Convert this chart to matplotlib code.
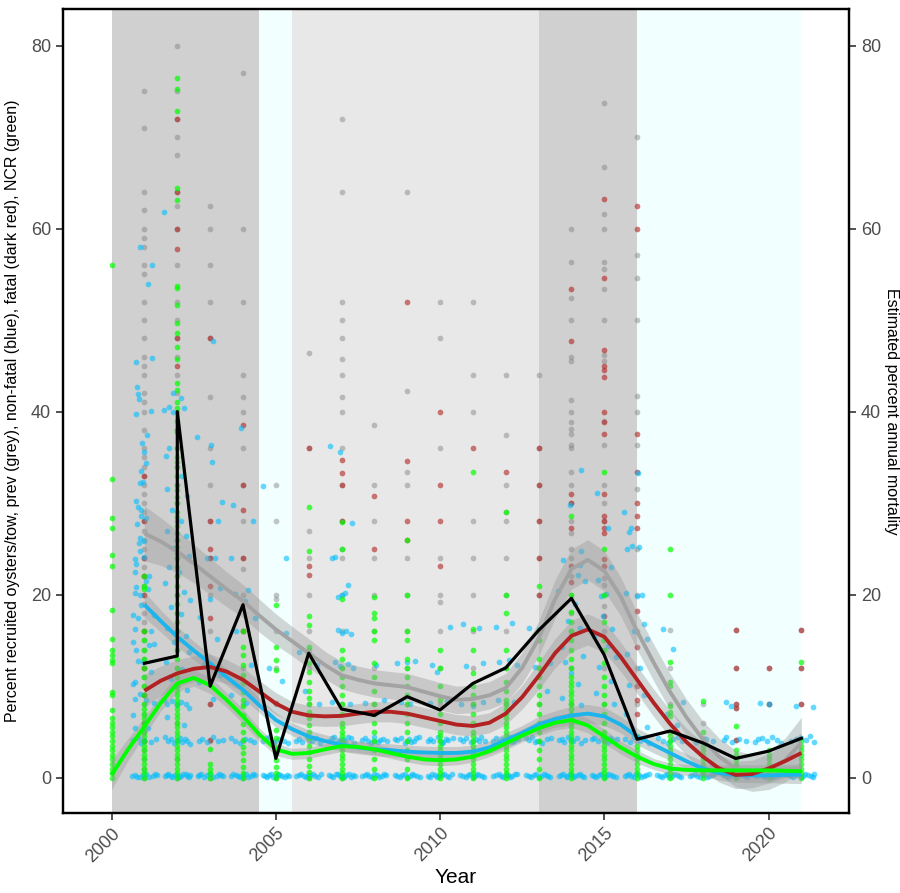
import matplotlib
matplotlib.use("Agg")
import matplotlib.pyplot as plt

plt.rcParams['font.family'] = ['Liberation Sans', 'DejaVu Sans']

# management periods shaded behind the data (start, end, colour)
periods = [(2000.0, 2004.5, "#d0d0d0"), (2004.5, 2005.5, "#f2ffff"),
           (2005.5, 2013.0, "#e8e8e8"), (2013.0, 2016.0, "#d0d0d0"),
           (2016.0, 2021.0, "#f2ffff")]

# prevalence per tow (grey)
prev_pts = {
    2001: [75, 71, 64, 62, 60, 59, 58, 56, 55, 52, 50, 48, 46, 45, 44, 42, 41, 40, 38, 36, 35, 34, 33, 32,
           31, 30, 29, 28, 27, 26, 25, 24, 23, 22, 21, 20, 19, 18, 17, 16, 15, 14, 13, 12, 11, 10, 9, 8,
           7, 6, 5, 4, 3, 2, 1, 0],
    2002: [80, 75, 72, 70, 68, 64, 62.5, 60, 56, 52, 50, 48, 46, 44, 42, 40, 38, 36, 34, 32, 30, 28,
           26, 24, 22, 20, 18, 16, 14, 12, 10, 8, 6, 4, 2, 0],
    2003: [62.5, 60, 56, 52, 48, 41.6, 36, 32, 28, 24, 20, 16, 12, 8, 4, 0],
    2004: [77, 60, 52, 44, 41.6, 40, 36, 32, 28, 24, 22.8, 20, 16, 12, 8, 4, 0],
    2005: [32, 28, 20, 19.5, 16, 12, 8, 4, 0],
    2006: [46.4, 36, 27, 24, 20, 16, 14, 13.5, 12, 8, 4, 0],
    2007: [72, 64, 52, 50, 48, 45.8, 44, 41.6, 40, 36, 32, 28, 25, 24, 20, 16, 12, 8, 4, 0],
    2008: [38.5, 32, 28, 24, 20, 16, 12, 8, 4],
    2009: [64, 42.3, 33.4, 32, 24, 20, 16, 12, 8, 4],
    2010: [52, 48, 36, 24, 20, 19.2, 16, 12, 8, 4],
    2011: [52, 44, 40, 28, 24, 20, 16, 12, 8, 4],
    2012: [44, 37.5, 32, 29, 28, 24, 20, 16, 12, 8, 4],
    2013: [44, 36, 32, 28, 24, 20, 16, 12, 8, 4],
    2014: [60, 56.3, 52.4, 50, 46, 45.5, 41.3, 40, 38.9, 38.1, 37.6, 36.4, 36, 33.4, 32, 30, 28, 26.7,
           25, 24, 22, 20, 18, 16, 12, 8, 4],
    2015: [73.7, 66.7, 61.6, 60, 56.3, 55.6, 53.4, 50, 46.2, 45.5, 39, 36.4, 32, 30, 28, 21.8, 21.1,
           20, 18.8, 16, 12, 8, 4],
    2016: [70, 57.1, 54.6, 50, 41.7, 40, 36.4, 31.6, 25, 20, 16, 12, 8, 4],
    2017: [16.1, 12, 8, 4],
    2018: [8, 6, 4.3],
    2019: [16.1, 12, 8, 7.6, 4.1],
    2020: [12, 8],
    2021: [16.1, 12, 8],
}

# fatal infections (dark red)
fatal_pts = {
    2001: [33, 28, 24, 22, 20, 16, 12, 9, 6, 4],
    2002: [72, 64, 60, 57.8, 48, 45],
    2003: [48, 28, 25, 24, 20.9, 17.4, 8, 4.1],
    2004: [38.5, 32, 29.2, 24, 16],
    2005: [8.2],
    2006: [36, 23.1, 22.2],
    2007: [34.7, 33.3, 32, 28],
    2008: [30.8, 25],
    2009: [52, 34.6, 28, 26],
    2010: [40, 32, 28, 23.1],
    2011: [36],
    2012: [33.4],
    2013: [36, 32, 28, 24, 20],
    2014: [53.4, 47.7, 31, 30, 27.3, 23.1, 21.4],
    2015: [63.2, 54.6, 46.7, 45, 44.5, 43.8, 40, 38.9, 37.6, 31, 28.6, 28, 27.3, 26.7, 23.9, 23.1, 17.7],
    2016: [62.5, 60, 37.6, 33.4, 30, 28.6, 27.3, 18.2, 14.3, 10, 8.5, 7],
    2019: [16.1, 12, 8, 7.6, 4.1],
    2020: [12, 8],
    2021: [16.1, 12, 8],
}

# new cases recruited (green)
ncr_pts = {
    2000: [56, 32.6, 28.4, 27.3, 24.3, 23.1, 18.3, 15.2, 14, 13.4, 12.9, 12.5, 9.4, 9, 7.4, 6.5, 6,
           5.5, 5, 4.5, 4, 3.5, 3, 2.5, 2, 1.5, 1, 0.5, 0],
    2001: [22, 21, 20.6, 16, 15, 14, 13, 12, 11, 10, 9, 8, 7.5, 7, 6.5, 6, 5.5, 5, 4.5, 4, 3.5, 3,
           2.5, 2, 1.5, 1, 0.5, 0],
    2002: [76.5, 75.3, 72.9, 64.4, 63.1, 53.7, 53.5, 51.7, 49.7, 48.6, 47.1, 45.7, 43.1, 42.4, 41.1,
           40.4, 39, 38, 37.8, 36, 35, 34.5, 34, 33, 32, 31.4, 30.7, 30, 29, 28.5, 27.5, 26.7, 26,
           25.2, 24.5, 24, 23, 22, 21, 20, 19, 18, 17, 16, 15, 14, 13, 12, 11, 10, 9.5, 9, 8.5, 8,
           7.5, 7, 6.5, 6, 5.5, 5, 4.5, 4, 3.5, 3, 2.5, 2, 1.5, 1, 0.5, 0],
    2003: [3.1, 1.5, 1, 0.5, 0],
    2004: [16, 14.3, 13.4, 12.3, 11.2, 10.3, 9.4, 8.5, 7.8, 6.85, 5.9, 5, 4.1, 3.4, 2.7, 1.9, 1.2, 0.5, 0],
    2005: [18.9, 14.3, 12.9, 11.8, 5.2, 4.3, 3.4, 2.7, 1.9, 1.2, 0.5, 0],
    2006: [29.6, 24.8, 17.7, 16.7, 14.3, 13.5, 12.5, 11.5, 10.5, 9.5, 8.7, 8, 7.2, 6.5, 5.8, 5, 4.3,
           3.5, 2.8, 2, 1.3, 0.6, 0],
    2007: [27.9, 25, 19.5, 14, 13, 12, 11, 10, 9, 8, 7, 6, 5.5, 5, 4.5, 4, 3.5, 3, 2.5, 2, 1.5, 1, 0.5, 0],
    2008: [19.7, 18, 17.5, 16, 15, 12.5, 11, 9.5, 8, 7, 6, 5, 4, 3, 2, 1, 0],
    2009: [26, 20, 16, 15, 13, 12, 11, 10, 9, 8, 7, 6, 5, 4, 3, 2, 1, 0],
    2010: [14, 12, 10, 8.5, 7, 6, 5, 4.5, 4, 3.5, 3, 2.5, 2, 1.5, 1, 0.5, 0],
    2011: [33.4, 16.3, 14, 11.4, 10, 9, 8, 7, 6, 5, 4.5, 4, 3.5, 3, 2.5, 2, 1.5, 1, 0.5, 0],
    2012: [29, 20, 18, 14, 12, 10.5, 9.5, 8.5, 8, 7.5, 7, 6.5, 6, 5.5, 5, 4.5, 4, 3.5, 3, 2.5, 2,
           1.5, 1, 0.5, 0],
    2013: [21, 16, 15, 13, 12, 11, 10, 9, 8, 7, 6, 5, 4, 3, 2, 1, 0],
    2014: [28.6, 20, 18.1, 17, 16, 15, 14, 13, 12, 11, 10.5, 10, 9.5, 9, 8.5, 8, 7.5, 7, 6.5, 6, 5.5,
           5, 4.5, 4, 3.5, 3, 2.5, 2, 1.5, 1, 0.5, 0],
    2015: [33.4, 25, 20, 17, 15, 14, 12.5, 11, 10, 9, 8, 7, 6, 5, 4.5, 4, 3.5, 3, 2.5, 2, 1.5, 1, 0.5, 0],
    2016: [4.5, 3.5, 3, 2.5, 2, 1.5, 1, 0.5, 0],
    2017: [25, 20, 12.6, 10.5, 10, 7.8, 7.2, 6.7, 5, 4.5, 4, 3.5, 3, 2.5, 2, 1.5, 1, 0.5, 0],
    2018: [8.4, 5, 3.5, 3, 2.5, 2, 1.5, 1, 0.5, 0],
    2019: [5.6, 3, 2.5, 2, 1.5, 1, 0.5, 0],
    2020: [3, 2.5, 2, 1.5, 1, 0.5, 0],
    2021: [12.6, 4, 3.5, 3, 2.5, 2, 1.5, 1, 0.5, 0],
}

# non-fatal infections (blue), jittered sample positions
nonfatal_pts = [
    (2000.85, 58.0), (2001.23, 56.0), (2001.1, 53.9), (2000.73, 45.4), (2001.24, 45.9), (2000.78, 42.7),
    (2000.8, 41.9), (2000.83, 41.4), (2000.73, 39.7), (2001.2, 40.1), (2001.07, 37.5), (2000.93, 36.6),
    (2000.98, 35.6), (2001.05, 34.4), (2000.9, 33.5), (2000.85, 32.2), (2000.95, 32.3), (2000.75, 30.2),
    (2000.8, 29.6), (2000.9, 29.3), (2001.05, 28.4), (2000.9, 28.6), (2000.76, 27.7), (2000.85, 26.2),
    (2000.82, 25.6), (2001.0, 25.9), (2000.85, 24.8), (2000.7, 23.9), (2000.75, 23.4), (2000.98, 24.1),
    (2000.7, 22.5), (2001.15, 22.0), (2001.05, 21.5), (2001.12, 20.6), (2000.75, 20.8), (2000.7, 20.2),
    (2000.85, 20.0), (2000.88, 18.9), (2000.8, 17.4), (2000.66, 17.8), (2000.7, 16.2), (2001.3, 17.8),
    (2001.19, 16.0), (2001.15, 14.5), (2001.3, 14.6), (2000.65, 14.8), (2000.75, 13.9), (2000.95, 12.6),
    (2000.8, 12.8), (2001.2, 11.5), (2000.7, 10.5), (2000.66, 10.2), (2000.85, 9.1), (2000.7, 8.6),
    (2001.05, 8.5), (2001.3, 8.2), (2000.65, 6.8), (2000.7, 5.4), (2001.1, 5.4),
    (2001.6, 61.8), (2002.1, 41.5), (2002.2, 40.4), (2001.6, 40.2), (2001.75, 40.5), (2001.86, 40.0),
    (2001.86, 42.0), (2002.6, 37.2), (2001.75, 36.0), (2001.65, 35.1), (2002.15, 33.0), (2001.7, 31.5),
    (2002.3, 30.8), (2001.85, 29.2), (2002.1, 28.1), (2001.7, 27.0), (2002.25, 26.4), (2001.9, 25.1),
    (2002.35, 24.2), (2001.75, 23.0), (2002.05, 22.5), (2001.62, 21.3), (2002.2, 20.3), (2002.38, 19.4),
    (2001.8, 18.6), (2002.1, 17.9), (2001.7, 16.4), (2002.25, 15.5), (2001.9, 14.8), (2002.35, 13.7),
    (2001.65, 12.6), (2002.15, 11.9), (2001.8, 10.8), (2002.3, 9.6), (2001.6, 8.5), (2001.7, 8.1),
    (2001.85, 8.4), (2002.0, 7.9), (2002.1, 8.3), (2002.25, 8.0), (2002.35, 7.6), (2001.7, 6.6),
    (2002.2, 5.8),
    (2003.03, 36.4), (2003.1, 47.7), (2003.35, 30.1), (2003.05, 34.5), (2003.25, 28.0), (2002.9, 24.0),
    (2003.15, 24.0), (2003.3, 20.7), (2003.0, 19.5), (2002.7, 17.6), (2003.2, 15.2), (2002.8, 12.4),
    (2003.3, 11.2), (2002.65, 10.5), (2003.1, 8.6),
    (2003.95, 38.2), (2003.7, 29.8), (2004.3, 28.0), (2003.65, 24.0), (2004.15, 20.5), (2003.75, 20.1),
    (2004.05, 19.3), (2004.38, 17.5), (2003.8, 16.0), (2004.25, 12.3), (2003.65, 9.0), (2004.1, 8.2),
    (2004.6, 31.9), (2005.3, 24.0), (2005.3, 15.8), (2004.8, 12.0), (2005.2, 10.6),
    (2005.7, 13.7), (2006.25, 12.3), (2005.9, 9.5), (2006.3, 8.1),
    (2006.65, 36.2), (2006.95, 35.6), (2007.33, 27.8), (2006.7, 24.0), (2006.8, 24.1), (2007.2, 21.1),
    (2007.0, 20.0), (2006.9, 19.7), (2007.1, 20.2), (2006.9, 16.1), (2007.0, 15.8), (2007.15, 16.0),
    (2007.3, 15.7), (2006.8, 12.6), (2006.95, 12.2), (2007.2, 12.4), (2007.35, 12.0), (2006.7, 8.3),
    (2007.25, 8.0),
    (2008.05, 12.3), (2007.7, 8.2), (2008.3, 8.5),
    (2008.7, 12.5), (2009.0, 12.6), (2009.25, 12.8), (2008.8, 8.3), (2009.1, 8.0),
    (2009.75, 12.3), (2009.9, 11.5), (2010.3, 16.5), (2009.7, 8.2), (2010.2, 8.4),
    (2010.7, 16.8), (2011.2, 16.4), (2010.8, 12.2), (2011.3, 12.5), (2010.65, 8.0), (2011.0, 7.8),
    (2011.3, 8.3),
    (2011.7, 16.5), (2012.2, 16.9), (2011.8, 12.6), (2012.1, 12.9), (2012.35, 12.3), (2011.75, 8.5),
    (2012.25, 8.3),
    (2012.7, 16.4), (2013.0, 16.2), (2013.35, 12.5), (2012.9, 12.1), (2013.25, 9.5),
    (2014.3, 33.6), (2013.95, 29.8), (2014.3, 24.8), (2013.75, 23.8), (2014.26, 23.2), (2014.2, 22.1),
    (2014.4, 21.5), (2013.6, 20.4), (2014.1, 19.0), (2013.9, 17.1), (2014.25, 16.4), (2013.7, 14.3),
    (2014.35, 13.3), (2013.8, 12.6), (2014.0, 11.4), (2014.2, 10.2), (2013.7, 8.7), (2014.3, 7.9),
    (2014.77, 31.1), (2014.8, 21.6), (2015.12, 27.3), (2014.9, 19.9), (2015.05, 20.1), (2015.2, 23.0),
    (2014.95, 17.7), (2015.25, 16.2), (2014.7, 15.5), (2015.1, 14.4), (2015.35, 13.2), (2014.85, 12.1),
    (2015.2, 10.6), (2014.75, 9.3), (2015.3, 8.1),
    (2016.04, 33.3), (2015.6, 29.0), (2015.8, 27.3), (2015.75, 26.9), (2015.7, 25.0), (2015.85, 25.3),
    (2016.05, 25.2), (2015.65, 20.2), (2016.0, 19.8), (2016.15, 20.0), (2016.2, 16.8), (2015.9, 16.0),
    (2016.3, 15.2), (2015.7, 13.5), (2016.1, 12.0), (2015.75, 10.1), (2016.2, 9.0), (2015.65, 7.0),
    (2016.3, 5.5),
    (2016.8, 16.2), (2017.1, 14.1), (2017.4, 8.3), (2016.9, 7.0), (2017.2, 5.8),
    (2018.7, 8.3), (2018.85, 7.8),
    (2019.75, 8.2), (2020.0, 8.0),
    (2020.85, 7.8), (2021.35, 7.7),
]

# non-fatal counts near 4 % (one infected oyster in 25), jittered
nonfatal_four = [
    (2000.65, 4.1), (2000.8, 4.3), (2000.9, 3.8), (2001.0, 4.1), (2001.2, 3.9), (2001.35, 4.2),
    (2001.62, 4.4), (2001.72, 4.0), (2001.82, 4.2), (2001.9, 3.8), (2002.0, 4.1), (2002.08, 4.3),
    (2002.15, 3.9), (2002.22, 4.2), (2002.3, 4.0), (2002.38, 3.7),
    (2002.65, 4.0), (2002.75, 4.2), (2002.9, 3.9), (2003.1, 4.4), (2003.25, 4.0), (2003.38, 4.1),
    (2003.62, 4.3), (2003.75, 4.0), (2003.9, 3.8), (2004.05, 4.2), (2004.2, 4.1), (2004.33, 3.9),
    (2004.62, 4.0), (2004.7, 4.3), (2004.8, 4.4), (2004.95, 3.9), (2005.1, 4.2), (2005.25, 4.0),
    (2005.38, 3.8), (2005.62, 4.0), (2005.72, 4.2), (2005.8, 3.9), (2005.95, 4.4), (2006.1, 4.0),
    (2006.22, 4.3), (2006.35, 3.8), (2006.62, 4.0), (2006.7, 4.3), (2006.78, 4.4), (2006.88, 3.9),
    (2006.96, 4.1), (2007.05, 4.2), (2007.12, 4.0), (2007.2, 4.4), (2007.28, 4.3), (2007.38, 3.8),
    (2007.62, 4.1), (2007.72, 4.3), (2007.8, 4.0), (2007.9, 3.8), (2007.98, 4.4), (2008.1, 3.9),
    (2008.18, 4.1), (2008.25, 4.2), (2008.38, 4.0), (2008.62, 4.2), (2008.7, 4.1), (2008.8, 4.3),
    (2008.92, 3.8), (2009.05, 4.2), (2009.12, 3.9), (2009.2, 4.0), (2009.28, 4.3), (2009.35, 4.4),
    (2009.62, 4.0), (2009.7, 4.2), (2009.8, 4.0), (2009.95, 4.4), (2010.05, 3.8), (2010.1, 3.9),
    (2010.18, 4.2), (2010.25, 4.1), (2010.38, 4.3), (2010.62, 4.2), (2010.7, 4.0), (2010.8, 4.3),
    (2010.95, 3.9), (2011.1, 4.2), (2011.18, 4.0), (2011.25, 4.4), (2011.38, 4.0), (2011.62, 4.0),
    (2011.7, 4.3), (2011.8, 3.9), (2011.88, 4.2), (2011.95, 4.1), (2012.1, 4.4), (2012.18, 3.9),
    (2012.25, 4.0), (2012.38, 4.2), (2012.62, 4.3), (2012.72, 4.1), (2012.8, 4.4), (2012.88, 3.9),
    (2012.95, 4.0), (2013.1, 3.8), (2013.25, 4.2), (2013.38, 4.3), (2013.62, 4.1), (2013.72, 4.2),
    (2013.78, 3.9), (2013.9, 4.4), (2013.98, 4.2), (2014.05, 4.0), (2014.18, 4.3), (2014.3, 3.8),
    (2014.4, 4.1), (2014.62, 4.2), (2014.7, 4.3), (2014.8, 4.0), (2014.95, 4.4), (2015.1, 3.9),
    (2015.18, 4.3), (2015.25, 4.1), (2015.38, 4.2), (2015.62, 4.2), (2015.78, 3.9), (2015.92, 4.4),
    (2016.08, 4.0), (2016.22, 4.3), (2016.36, 3.8), (2016.65, 4.3), (2016.8, 4.0), (2016.95, 3.8),
    (2017.1, 4.2), (2017.25, 4.4), (2017.38, 4.0), (2017.8, 3.9), (2018.1, 4.2), (2018.3, 4.0),
    (2018.65, 4.1), (2018.72, 4.4), (2018.9, 3.9), (2019.1, 4.2), (2019.3, 4.0), (2019.6, 3.9),
    (2019.68, 4.2), (2019.8, 4.3), (2019.95, 4.0), (2020.1, 4.4), (2020.25, 4.1), (2020.38, 3.8),
    (2020.7, 4.0), (2020.85, 4.2), (2021.0, 4.3), (2021.15, 4.1), (2021.25, 4.5), (2021.38, 3.9),
]

# non-fatal counts at zero, jittered
nonfatal_zero = [
    (2000.62, 0.2), (2000.7, 0.3), (2000.78, 0.1), (2000.85, 0.1), (2000.95, 0.3), (2001.05, 0.4),
    (2001.15, 0.1), (2001.25, 0.2), (2001.32, 0.4), (2001.38, 0.3),
    (2001.62, 0.2), (2001.68, 0.3), (2001.72, 0.4), (2001.8, 0.2), (2001.85, 0.1), (2001.92, 0.3),
    (2001.98, 0.3), (2002.05, 0.1), (2002.12, 0.2), (2002.18, 0.4), (2002.25, 0.4), (2002.3, 0.2),
    (2002.36, 0.1), (2002.4, 0.3),
    (2002.62, 0.2), (2002.65, 0.3), (2002.72, 0.4), (2002.8, 0.1), (2002.9, 0.3), (2003.0, 0.4),
    (2003.1, 0.1), (2003.2, 0.2), (2003.28, 0.4), (2003.32, 0.3), (2003.4, 0.2),
    (2003.62, 0.2), (2003.7, 0.4), (2003.78, 0.3), (2003.85, 0.2), (2003.92, 0.1), (2004.0, 0.3),
    (2004.08, 0.4), (2004.15, 0.1), (2004.25, 0.2), (2004.32, 0.4), (2004.38, 0.3),
    (2004.62, 0.3), (2004.68, 0.2), (2004.72, 0.1), (2004.78, 0.3), (2004.85, 0.4), (2004.92, 0.1),
    (2005.0, 0.2), (2005.06, 0.4), (2005.12, 0.3), (2005.2, 0.2), (2005.28, 0.1), (2005.34, 0.3),
    (2005.4, 0.2),
    (2005.62, 0.2), (2005.7, 0.3), (2005.78, 0.4), (2005.85, 0.2), (2005.92, 0.1), (2005.98, 0.3),
    (2006.05, 0.3), (2006.12, 0.4), (2006.2, 0.2), (2006.28, 0.1), (2006.36, 0.4),
    (2006.62, 0.3), (2006.68, 0.2), (2006.75, 0.1), (2006.82, 0.4), (2006.9, 0.4), (2006.96, 0.2),
    (2007.02, 0.2), (2007.08, 0.1), (2007.15, 0.3), (2007.22, 0.4), (2007.3, 0.1), (2007.35, 0.3),
    (2007.4, 0.2),
    (2007.62, 0.2), (2007.7, 0.3), (2007.78, 0.4), (2007.85, 0.2), (2007.92, 0.1), (2008.0, 0.4),
    (2008.08, 0.3), (2008.15, 0.1), (2008.22, 0.2), (2008.3, 0.4), (2008.36, 0.3),
    (2008.62, 0.3), (2008.7, 0.2), (2008.78, 0.1), (2008.85, 0.3), (2008.92, 0.4), (2009.0, 0.1),
    (2009.08, 0.2), (2009.15, 0.4), (2009.22, 0.3), (2009.3, 0.2), (2009.38, 0.1),
    (2009.62, 0.2), (2009.7, 0.1), (2009.76, 0.4), (2009.84, 0.3), (2009.9, 0.1), (2009.98, 0.2),
    (2010.05, 0.3), (2010.12, 0.4), (2010.2, 0.2), (2010.28, 0.1), (2010.35, 0.4),
    (2010.62, 0.3), (2010.7, 0.2), (2010.78, 0.1), (2010.85, 0.3), (2010.92, 0.4), (2011.0, 0.1),
    (2011.06, 0.2), (2011.14, 0.4), (2011.2, 0.3), (2011.28, 0.2), (2011.35, 0.1),
    (2011.62, 0.2), (2011.7, 0.3), (2011.78, 0.4), (2011.85, 0.2), (2011.92, 0.1), (2012.0, 0.3),
    (2012.06, 0.3), (2012.14, 0.1), (2012.2, 0.2), (2012.28, 0.4), (2012.35, 0.4),
    (2012.62, 0.3), (2012.7, 0.2), (2012.78, 0.1), (2012.85, 0.3), (2012.92, 0.4), (2013.0, 0.1),
    (2013.08, 0.2), (2013.15, 0.4), (2013.22, 0.3), (2013.3, 0.2), (2013.36, 0.1),
    (2013.62, 0.2), (2013.68, 0.3), (2013.75, 0.4), (2013.82, 0.2), (2013.88, 0.1), (2013.95, 0.4),
    (2014.0, 0.3), (2014.06, 0.1), (2014.12, 0.2), (2014.2, 0.3), (2014.25, 0.4), (2014.32, 0.2),
    (2014.38, 0.1),
    (2014.62, 0.3), (2014.7, 0.2), (2014.76, 0.1), (2014.83, 0.3), (2014.9, 0.4), (2014.98, 0.1),
    (2015.05, 0.2), (2015.12, 0.4), (2015.2, 0.3), (2015.28, 0.2), (2015.35, 0.1),
    (2015.62, 0.2), (2015.68, 0.3), (2015.75, 0.4), (2015.82, 0.2), (2015.9, 0.1), (2015.98, 0.4),
    (2016.05, 0.3), (2016.12, 0.1), (2016.2, 0.2), (2016.28, 0.3), (2016.35, 0.4),
    (2016.62, 0.3), (2016.7, 0.2), (2016.76, 0.1), (2016.84, 0.3), (2016.9, 0.4), (2016.98, 0.1),
    (2017.05, 0.2), (2017.12, 0.4), (2017.2, 0.3), (2017.28, 0.2), (2017.35, 0.1),
    (2017.62, 0.2), (2017.68, 0.3), (2017.75, 0.4), (2017.82, 0.2), (2017.9, 0.1), (2017.98, 0.4),
    (2018.05, 0.3), (2018.12, 0.1), (2018.2, 0.2), (2018.28, 0.3), (2018.35, 0.4),
    (2018.62, 0.3), (2018.7, 0.2), (2018.76, 0.1), (2018.84, 0.3), (2018.9, 0.4), (2018.98, 0.1),
    (2019.05, 0.2), (2019.12, 0.4), (2019.2, 0.3), (2019.28, 0.2), (2019.35, 0.1),
    (2019.62, 0.2), (2019.68, 0.3), (2019.75, 0.4), (2019.82, 0.2), (2019.9, 0.1), (2019.98, 0.4),
    (2020.05, 0.3), (2020.12, 0.1), (2020.2, 0.2), (2020.28, 0.3), (2020.35, 0.4),
    (2020.62, 0.3), (2020.7, 0.2), (2020.76, 0.1), (2020.84, 0.3), (2020.9, 0.4), (2020.98, 0.1),
    (2021.05, 0.2), (2021.12, 0.4), (2021.2, 0.3), (2021.28, 0.2), (2021.35, 0.1), (2021.4, 0.4),
]

# smoothed trends, half-year steps
fit_years = [2001, 2001.5, 2002, 2002.5, 2003, 2003.5, 2004, 2004.5, 2005, 2005.5, 2006, 2006.5,
             2007, 2007.5, 2008, 2008.5, 2009, 2009.5, 2010, 2010.5, 2011, 2011.5, 2012, 2012.5,
             2013, 2013.5, 2014, 2014.5, 2015, 2015.5, 2016, 2016.5, 2017, 2017.5, 2018, 2018.5,
             2019, 2019.5, 2020, 2020.5, 2021]
prev_fit = [26.7, 25.8, 24.7, 23.4, 22.0, 20.6, 19.3, 17.7, 16.2, 14.9, 13.6, 12.3, 11.2, 10.7,
            10.3, 10.1, 9.9, 9.4, 8.9, 8.5, 8.6, 9.0, 9.8, 12.0, 15.2, 19.5, 22.8, 23.8, 22.6, 19.8,
            16.0, 12.6, 9.4, 6.6, 4.2, 2.3, 1.0, 0.5, 0.8, 1.9, 3.8]
prev_se = [3.0, 2.6, 2.3, 2.1, 2.0, 1.9, 1.8, 1.8, 1.7, 1.6, 1.6, 1.5, 1.5, 1.5, 1.5, 1.5, 1.5,
           1.5, 1.5, 1.5, 1.5, 1.5, 1.6, 1.7, 1.9, 2.1, 2.2, 2.2, 2.2, 2.1, 2.0, 2.0, 2.0, 2.0,
           2.0, 2.0, 2.0, 2.0, 2.1, 2.4, 2.8]
nonfatal_fit = [18.9, 17.1, 15.4, 13.9, 12.5, 11.0, 9.6, 7.9, 6.3, 5.3, 4.5, 4.0, 3.6, 3.3, 3.1,
                3.0, 2.85, 2.75, 2.7, 2.7, 2.85, 3.3, 4.1, 4.9, 5.8, 6.4, 6.8, 7.0, 6.7, 5.8, 4.5,
                3.6, 2.7, 1.8, 1.0, 0.5, 0.3, 0.25, 0.25, 0.3, 0.35]
nonfatal_se = [1.4, 1.2, 1.1, 1.0, 1.0, 0.9, 0.9, 0.8, 0.8, 0.7, 0.7, 0.7, 0.7, 0.7, 0.7, 0.7,
               0.7, 0.7, 0.7, 0.7, 0.7, 0.7, 0.8, 0.8, 0.9, 0.9, 1.0, 1.0, 1.0, 0.9, 0.9, 0.9,
               0.8, 0.8, 0.8, 0.8, 0.8, 0.8, 0.8, 0.9, 1.0]
fatal_fit = [9.5, 10.6, 11.4, 11.9, 12.1, 11.6, 10.7, 9.4, 8.1, 7.2, 6.8, 6.7, 6.75, 7.0, 7.2, 7.2,
             7.0, 6.6, 6.2, 5.8, 5.65, 6.0, 7.0, 8.8, 11.1, 13.6, 15.5, 16.2, 15.4, 13.2, 10.7, 8.2,
             5.9, 3.9, 2.3, 1.0, 0.3, 0.4, 1.0, 1.8, 2.7]
fatal_se = [1.8, 1.6, 1.5, 1.4, 1.4, 1.3, 1.3, 1.2, 1.2, 1.1, 1.1, 1.1, 1.1, 1.1, 1.1, 1.1, 1.1,
            1.1, 1.1, 1.1, 1.1, 1.1, 1.2, 1.3, 1.5, 1.6, 1.7, 1.7, 1.7, 1.6, 1.5, 1.5, 1.5, 1.5,
            1.5, 1.5, 1.5, 1.5, 1.6, 1.8, 2.2]
ncr_years = [2000, 2000.5] + fit_years
ncr_fit = [0.3, 3.1, 5.6, 8.2, 10.3, 10.9, 10.1, 8.5, 6.7, 4.7, 3.1, 2.6, 2.7, 3.1, 3.45, 3.35,
           3.1, 2.7, 2.3, 2.0, 1.9, 2.0, 2.3, 2.9, 3.75, 4.6, 5.4, 6.0, 6.3, 5.7, 4.5, 3.3, 2.3,
           1.5, 1.0, 0.85, 0.8, 0.8, 0.8, 0.8, 0.8, 0.75, 0.7]
ncr_se = [1.6, 1.2, 1.0, 0.9, 0.9, 0.9, 0.9, 0.8, 0.8, 0.7, 0.7, 0.6, 0.6, 0.6, 0.6, 0.6, 0.6,
          0.6, 0.6, 0.6, 0.6, 0.6, 0.6, 0.6, 0.7, 0.7, 0.8, 0.8, 0.8, 0.8, 0.8, 0.7, 0.7, 0.6,
          0.6, 0.6, 0.6, 0.6, 0.6, 0.6, 0.6, 0.7, 0.8]

# annual mortality (right axis, black); 2002 has two estimates
mort_years = [2001, 2002, 2002, 2003, 2004, 2005, 2006, 2007, 2008, 2009, 2010, 2011, 2012,
              2013, 2014, 2015, 2016, 2017, 2018, 2019, 2020, 2021]
mortality = [12.5, 13.3, 40.0, 10.0, 18.9, 2.1, 13.6, 7.5, 6.8, 8.85, 7.4, 10.3, 12.0, 16.1, 19.6,
             13.4, 4.2, 5.1, 3.8, 2.1, 2.9, 4.3]


def flatten(pts):
    xs, ys = [], []
    for yr, vals in pts.items():
        xs += [yr] * len(vals)
        ys += vals
    return xs, ys


fig = plt.figure(figsize=(9, 8.93), dpi=100)
ax = fig.add_axes([0.070, 0.0896, 0.8733, 0.9003])

for start, end, col in periods:
    ax.axvspan(start, end, color=col, lw=0, zorder=0)

blue = nonfatal_pts + nonfatal_four + nonfatal_zero

dot = dict(s=17, linewidths=0, zorder=2)
ax.scatter(*flatten(prev_pts), color="#7f7f7f", alpha=0.45, **dot)
ax.scatter(*flatten(fatal_pts), color="#b22222", alpha=0.6, **dot)
ax.scatter([p[0] for p in blue], [p[1] for p in blue], color="#00bfff", alpha=0.6, **dot)
ax.scatter(*flatten(ncr_pts), color="#00ff00", alpha=0.7, **dot)

fits = [(fit_years, prev_fit, prev_se, "#a3a3a3"),
        (fit_years, nonfatal_fit, nonfatal_se, "#1cb4ec"),
        (fit_years, fatal_fit, fatal_se, "#b22222"),
        (ncr_years, ncr_fit, ncr_se, "#00ff00")]
for xs, mid, se, col in fits:
    lo = [m - s for m, s in zip(mid, se)]
    hi = [m + s for m, s in zip(mid, se)]
    ax.fill_between(xs, lo, hi, color="#999999", alpha=0.4, lw=0, zorder=3)
    ax.plot(xs, mid, color=col, lw=2.8, zorder=4, solid_capstyle="butt")

ax.set_xlim(1998.52, 2022.45)
ax.set_ylim(-3.86, 84.0)
ax.set_xticks([2000, 2005, 2010, 2015, 2020])
ax.set_yticks([0, 20, 40, 60, 80])
ax.tick_params(axis="both", labelsize=13, labelcolor="#4d4d4d", color="#333333",
               length=5, width=1.2)
plt.setp(ax.get_xticklabels(), rotation=45, ha="right", va="top", rotation_mode="anchor")
ax.set_xlabel("Year", fontsize=15, labelpad=2)
ax.set_ylabel("Percent recruited oysters/tow, prev (grey), non-fatal (blue), fatal (dark red), NCR (green)",
              fontsize=11.5)
ax.yaxis.set_label_coords(-0.055, 0.5)

ax2 = ax.twinx()
ax2.plot(mort_years, mortality, color="black", lw=2.3, zorder=5)
ax2.set_ylim(ax.get_ylim())
ax2.set_yticks([0, 20, 40, 60, 80])
ax2.tick_params(axis="y", labelsize=13, labelcolor="#4d4d4d", color="#333333", length=5, width=1.2)
ax2.set_ylabel("Estimated percent annual mortality", fontsize=11.5, rotation=270, va="center")
ax2.yaxis.set_label_coords(1.054, 0.5)

for a in (ax, ax2):
    for sp in a.spines.values():
        sp.set_linewidth(1.6)
        sp.set_color("black")

fig.savefig("out.png", dpi=100)
